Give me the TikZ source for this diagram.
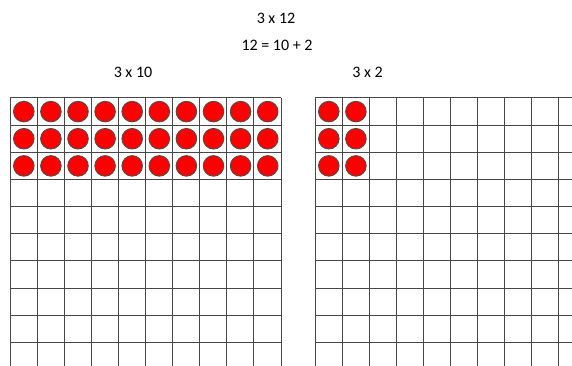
\documentclass[tikz,border=0pt]{standalone}
\usepackage{fontspec}
\setmainfont{Carlito}
\begin{document}
\begin{tikzpicture}[x=1pt,y=-1pt,
  gridline/.style={draw=black!72,line width=1pt},
  counter/.style={fill=red,draw=black!70,line width=0.9pt},
  lbl/.style={font=\fontsize{16}{18}\selectfont,inner sep=0pt}]
\useasboundingbox (0,0) rectangle (572,366);
\clip (0,0) rectangle (572,366);
% titles
\node[lbl] (t1) at (276,18) {3 x 12};
\node[lbl] (t2) at (277,45) {12 = 10 + 2};
\node[lbl] (t3) at (133,72) {3 x 10};
\node[lbl] (t4) at (367.5,72) {3 x 2};
% left grid
\foreach \k in {0,...,10} \draw[gridline] (10+27.1*\k,98) -- (10+27.1*\k,366);
\foreach \j in {0,...,9} \draw[gridline] (10,98+27.15*\j) -- (281,98+27.15*\j);
% right grid
\foreach \k in {0,...,9} \draw[gridline] (315+27.1*\k,98) -- (315+27.1*\k,366);
\foreach \j in {0,...,9} \draw[gridline] (315,98+27.15*\j) -- (572,98+27.15*\j);
% counters
\foreach \j in {0,1,2} {
  \foreach \k in {0,...,9} \draw[counter] (10+27.1*\k+13.8,98+27.15*\j+13.6) circle (10.3);
  \foreach \k in {0,1} \draw[counter] (315+27.1*\k+13.8,98+27.15*\j+13.6) circle (10.3);
}
\end{tikzpicture}
\end{document}
